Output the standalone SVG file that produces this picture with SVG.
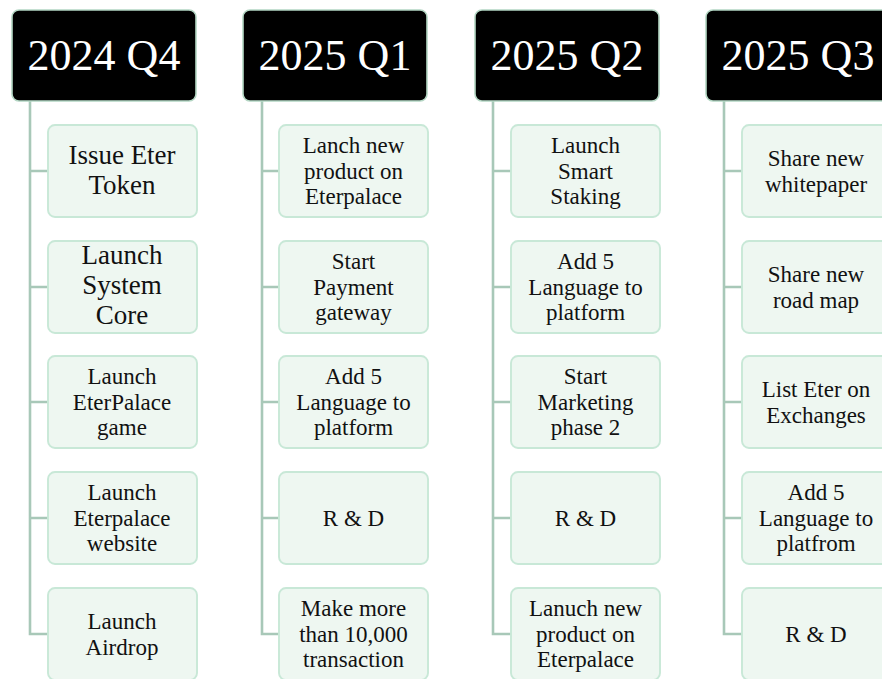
<svg xmlns="http://www.w3.org/2000/svg" width="882" height="679" viewBox="0 0 882 679">
<style>
.hdr{fill:#000;stroke:#b3d6c3;stroke-width:1.6}
.htx{fill:#fff;font-family:"Liberation Serif","DejaVu Serif",serif;font-size:44px;text-anchor:middle}
.box{fill:#eef7f1;stroke:#c8e8d7;stroke-width:1.9}
.t{fill:#111;font-family:"Liberation Serif","DejaVu Serif",serif;font-size:23px;text-anchor:middle}
.tl{fill:#111;font-family:"Liberation Serif","DejaVu Serif",serif;font-size:27px;text-anchor:middle}
.con{fill:none;stroke:#a8c8b8;stroke-width:2.6}
</style>
<rect width="882" height="679" fill="#fff"/>
<g id="connectors">
<path class="con" d="M30 101V634H48M30 171H48M30 287H48M30 402H48M30 518H48"/>
<path class="con" d="M262 101V634H279M262 171H279M262 287H279M262 402H279M262 518H279"/>
<path class="con" d="M493 101V634H511M493 171H511M493 287H511M493 402H511M493 518H511"/>
<path class="con" d="M724 101V634H742M724 171H742M724 287H742M724 402H742M724 518H742"/>
</g>
<g id="h-2024q4"><rect class="hdr" x="12" y="10" width="184" height="91" rx="7"/><text class="htx" x="104" y="70">2024 Q4</text></g>
<g id="h-2025q1"><rect class="hdr" x="243" y="10" width="184" height="91" rx="7"/><text class="htx" x="335" y="70">2025 Q1</text></g>
<g id="h-2025q2"><rect class="hdr" x="475" y="10" width="184" height="91" rx="7"/><text class="htx" x="567" y="70">2025 Q2</text></g>
<g id="h-2025q3"><rect class="hdr" x="706" y="10" width="184" height="91" rx="7"/><text class="htx" x="798" y="70">2025 Q3</text></g>

<g id="q4-1"><rect class="box" x="48" y="125" width="149" height="92" rx="7"/><text class="tl"><tspan x="122" y="164">Issue Eter</tspan><tspan x="122" y="194">Token</tspan></text></g>
<g id="q4-2"><rect class="box" x="48" y="241" width="149" height="92" rx="7"/><text class="tl"><tspan x="122" y="264">Launch</tspan><tspan x="122" y="294">System</tspan><tspan x="122" y="324">Core</tspan></text></g>
<g id="q4-3"><rect class="box" x="48" y="356" width="149" height="92" rx="7"/><text class="t"><tspan x="122" y="384">Launch</tspan><tspan x="122" y="409.5">EterPalace</tspan><tspan x="122" y="435">game</tspan></text></g>
<g id="q4-4"><rect class="box" x="48" y="472" width="149" height="92" rx="7"/><text class="t"><tspan x="122" y="500">Launch</tspan><tspan x="122" y="525.5">Eterpalace</tspan><tspan x="122" y="551">website</tspan></text></g>
<g id="q4-5"><rect class="box" x="48" y="588" width="149" height="92" rx="7"/><text class="t"><tspan x="122" y="629">Launch</tspan><tspan x="122" y="654.5">Airdrop</tspan></text></g>

<g id="q1-1"><rect class="box" x="279" y="125" width="149" height="92" rx="7"/><text class="t"><tspan x="353.5" y="153">Lanch new</tspan><tspan x="353.5" y="178.5">product on</tspan><tspan x="353.5" y="204">Eterpalace</tspan></text></g>
<g id="q1-2"><rect class="box" x="279" y="241" width="149" height="92" rx="7"/><text class="t"><tspan x="353.5" y="269">Start</tspan><tspan x="353.5" y="294.5">Payment</tspan><tspan x="353.5" y="320">gateway</tspan></text></g>
<g id="q1-3"><rect class="box" x="279" y="356" width="149" height="92" rx="7"/><text class="t"><tspan x="353.5" y="384">Add 5</tspan><tspan x="353.5" y="409.5">Language to</tspan><tspan x="353.5" y="435">platform</tspan></text></g>
<g id="q1-4"><rect class="box" x="279" y="472" width="149" height="92" rx="7"/><text class="t"><tspan x="353.5" y="526">R &amp; D</tspan></text></g>
<g id="q1-5"><rect class="box" x="279" y="588" width="149" height="92" rx="7"/><text class="t"><tspan x="353.5" y="616">Make more</tspan><tspan x="353.5" y="641.5">than 10,000</tspan><tspan x="353.5" y="667">transaction</tspan></text></g>

<g id="q2-1"><rect class="box" x="511" y="125" width="149" height="92" rx="7"/><text class="t"><tspan x="585.5" y="153">Launch</tspan><tspan x="585.5" y="178.5">Smart</tspan><tspan x="585.5" y="204">Staking</tspan></text></g>
<g id="q2-2"><rect class="box" x="511" y="241" width="149" height="92" rx="7"/><text class="t"><tspan x="585.5" y="269">Add 5</tspan><tspan x="585.5" y="294.5">Language to</tspan><tspan x="585.5" y="320">platform</tspan></text></g>
<g id="q2-3"><rect class="box" x="511" y="356" width="149" height="92" rx="7"/><text class="t"><tspan x="585.5" y="384">Start</tspan><tspan x="585.5" y="409.5">Marketing</tspan><tspan x="585.5" y="435">phase 2</tspan></text></g>
<g id="q2-4"><rect class="box" x="511" y="472" width="149" height="92" rx="7"/><text class="t"><tspan x="585.5" y="526">R &amp; D</tspan></text></g>
<g id="q2-5"><rect class="box" x="511" y="588" width="149" height="92" rx="7"/><text class="t"><tspan x="585.5" y="616">Lanuch new</tspan><tspan x="585.5" y="641.5">product on</tspan><tspan x="585.5" y="667">Eterpalace</tspan></text></g>

<g id="q3-1"><rect class="box" x="742" y="125" width="149" height="92" rx="7"/><text class="t"><tspan x="816" y="166">Share new</tspan><tspan x="816" y="191.5">whitepaper</tspan></text></g>
<g id="q3-2"><rect class="box" x="742" y="241" width="149" height="92" rx="7"/><text class="t"><tspan x="816" y="282">Share new</tspan><tspan x="816" y="307.5">road map</tspan></text></g>
<g id="q3-3"><rect class="box" x="742" y="356" width="149" height="92" rx="7"/><text class="t"><tspan x="816" y="397">List Eter on</tspan><tspan x="816" y="422.5">Exchanges</tspan></text></g>
<g id="q3-4"><rect class="box" x="742" y="472" width="149" height="92" rx="7"/><text class="t"><tspan x="816" y="500">Add 5</tspan><tspan x="816" y="525.5">Language to</tspan><tspan x="816" y="551">platfrom</tspan></text></g>
<g id="q3-5"><rect class="box" x="742" y="588" width="149" height="92" rx="7"/><text class="t"><tspan x="816" y="642">R &amp; D</tspan></text></g>
</svg>
